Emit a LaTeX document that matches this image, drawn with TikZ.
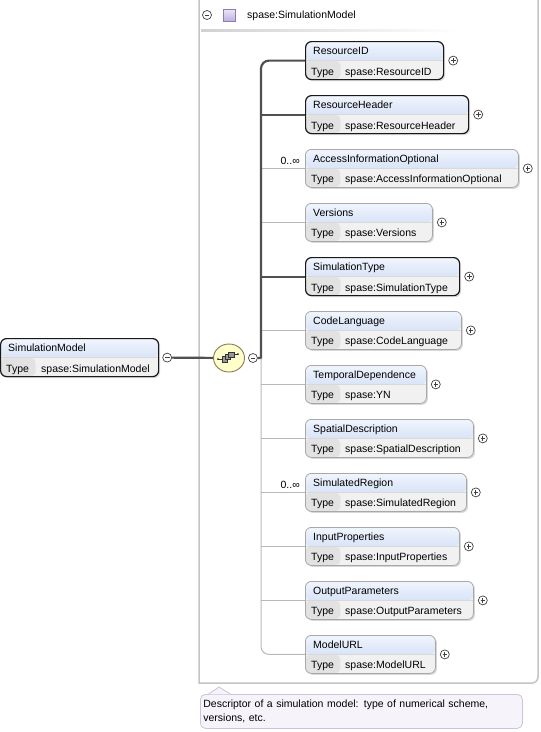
\documentclass[tikz,border=0pt]{standalone}
\usepackage{fontspec}
\setmainfont{Liberation Sans}
\usetikzlibrary{positioning}
\usetikzlibrary{shapes.geometric}
\usetikzlibrary{shadows}

\definecolor{hdtop}{HTML}{F1F5FD}
\definecolor{hdbot}{HTML}{BFD2F1}
\definecolor{rowgray}{HTML}{F1F1F1}
\definecolor{cellgray}{HTML}{E2E2E2}
\definecolor{optgray}{HTML}{A8A8A8}
\definecolor{linedark}{HTML}{505050}
\definecolor{linelight}{HTML}{B8B8B8}
\definecolor{framegray}{HTML}{C4C4C4}
\definecolor{seqfill}{HTML}{FFFFCC}
\definecolor{seqborder}{HTML}{8A7A50}
\definecolor{notefill}{HTML}{F6F3FA}
\definecolor{noteborder}{HTML}{CCC4DC}
\definecolor{clstop}{HTML}{ECE6F7}
\definecolor{clsbot}{HTML}{BEB0E0}
\definecolor{clsborder}{HTML}{8C7CB4}

\tikzset{
  elem/.style={rectangle, rounded corners=6pt, minimum height=38pt, inner sep=0pt,
    anchor=north west, fill=rowgray,
    drop shadow={shadow xshift=1.5pt, shadow yshift=-1.5pt, fill=black!30, opacity=.5},
    path picture={
      \shade[top color=hdtop, bottom color=hdbot]
        (path picture bounding box.north west) rectangle ([yshift=-19pt]path picture bounding box.north east);
      \fill[cellgray]
        ([yshift=-19pt]path picture bounding box.north west) rectangle ([xshift=35pt]path picture bounding box.south west);
      \draw[white!85!black, line width=0.6pt]
        ([yshift=-19pt]path picture bounding box.north west) -- ([yshift=-19pt]path picture bounding box.north east);
    }},
  mbox/.style={draw=black!90, line width=1.2pt},
  obox/.style={draw=optgray, line width=0.8pt},
  mline/.style={draw=linedark, line width=2.2pt},
  oline/.style={draw=linelight, line width=1pt},
  noline/.style={draw=none},
  txt/.style={anchor=west, inner sep=0pt, text height=8pt, text depth=2pt},
  plus/.style={circle, draw=black!75, line width=0.7pt, fill=white, minimum size=9pt, inner sep=0pt,
    path picture={
      \draw[line width=0.7pt]
        ([xshift=-2.3pt]path picture bounding box.center) -- ([xshift=2.3pt]path picture bounding box.center)
        ([yshift=-2.3pt]path picture bounding box.center) -- ([yshift=2.3pt]path picture bounding box.center);
    }},
  minus/.style={circle, draw=black!75, line width=0.7pt, fill=white, minimum size=9pt, inner sep=0pt,
    path picture={
      \draw[line width=0.7pt]
        ([xshift=-2.3pt]path picture bounding box.center) -- ([xshift=2.3pt]path picture bounding box.center);
    }},
  seq/.style={ellipse, draw=seqborder, line width=0.9pt, fill=seqfill, minimum width=31pt, minimum height=28pt,
    inner sep=0pt,
    path picture={
      \draw[black!80, line width=0.8pt]
        ([xshift=-11pt,yshift=-1pt]path picture bounding box.center) -- ([xshift=-7pt,yshift=-1pt]path picture bounding box.center)
        ([xshift=5pt,yshift=4pt]path picture bounding box.center) -- ([xshift=9pt,yshift=4pt]path picture bounding box.center);
      \fill[black!85]
        ([xshift=-11pt,yshift=-1pt]path picture bounding box.center) circle (1pt)
        ([xshift=9pt,yshift=4pt]path picture bounding box.center) circle (1pt);
      \filldraw[fill=black!40, draw=black!80, line width=0.6pt]
        ([xshift=-7pt,yshift=-4pt]path picture bounding box.center) rectangle ([xshift=-1.5pt,yshift=1.5pt]path picture bounding box.center);
      \filldraw[fill=black!40, draw=black!80, line width=0.6pt]
        ([xshift=-3.8pt,yshift=-1.6pt]path picture bounding box.center) rectangle ([xshift=1.7pt,yshift=3.9pt]path picture bounding box.center);
      \filldraw[fill=black!40, draw=black!80, line width=0.6pt]
        ([xshift=-0.5pt,yshift=0.6pt]path picture bounding box.center) rectangle ([xshift=5pt,yshift=6.1pt]path picture bounding box.center);
    }},
  cls/.style={rectangle, minimum size=12pt, inner sep=0pt, draw=clsborder, line width=0.6pt,
    top color=clstop, bottom color=clsbot},
  note/.style={rectangle, rounded corners=5pt, fill=notefill, draw=noteborder, line width=0.8pt, anchor=north west,
    minimum width=322pt, minimum height=34pt, text width=316pt, align=left, inner xsep=3pt, inner ysep=3pt,
    font=\fontsize{10.5}{14}\selectfont}
}

\begin{document}
\begin{tikzpicture}[x=1pt, y=-1pt, font=\fontsize{10.5}{12}\selectfont]
  \useasboundingbox (0,0) rectangle (541,732);

  % content frame
  \draw[framegray, line width=1.5pt] (199,-5) -- (199,683) [rounded corners=6pt] -| (538,-5);
  \node[minus] (topm) at (207,15) {};
  \node[cls] (cls) at (229,15) {};
  \node[txt] (clsname) at (247,15) {spase:SimulationModel};
  \shade[left color=black!18, right color=white] (201,29) rectangle (460,31);

  % root element
  \node[elem, mbox, minimum width=158pt] (root) at (0,338) {};
  \node[txt] (rootn) at ([xshift=8pt,yshift=-10pt]root.north west) {SimulationModel};
  \node[txt] (roott) at ([xshift=6pt,yshift=8pt]root.south west) {Type};
  \node[txt] (rootv) at ([xshift=41pt,yshift=8pt]root.south west) {spase:SimulationModel};
  \node[minus] (rootm) at ([xshift=8pt]root.east) {};

  \node[seq] (seq) at (229,358) {};
  \node[minus] (seqm) at ([xshift=8pt]seq.east) {};
  \coordinate (jn) at (261,358);

  \foreach \i/\y/\w/\el/\ty/\bx/\lk in {
      1/41/138/ResourceID/ResourceID/mbox/noline,
      2/95/163/ResourceHeader/ResourceHeader/mbox/mline,
      3/149/213/AccessInformationOptional/AccessInformationOptional/obox/oline,
      4/203/127/Versions/Versions/obox/oline,
      5/257/154/SimulationType/SimulationType/mbox/mline,
      6/311/156/CodeLanguage/CodeLanguage/obox/oline,
      7/365/121/TemporalDependence/YN/obox/oline,
      8/419/168/SpatialDescription/SpatialDescription/obox/oline,
      9/473/161/SimulatedRegion/SimulatedRegion/obox/oline,
      10/527/154/InputProperties/InputProperties/obox/oline,
      11/581/168/OutputParameters/OutputParameters/obox/oline,
      12/635/130/ModelURL/ModelURL/obox/noline} {
    \node[elem, \bx, minimum width=\w pt] (e\i) at (305,\y) {};
    \node[txt] (n\i) at ([xshift=8pt,yshift=-10pt]e\i.north west) {\el};
    \node[txt] (t\i) at ([xshift=6pt,yshift=8pt]e\i.south west) {Type};
    \node[txt] (v\i) at ([xshift=40pt,yshift=8pt]e\i.south west) {spase:\ty};
    \node[plus] (p\i) at ([xshift=9pt]e\i.east) {};
    \draw[\lk] (e\i.west -| jn) -- (e\i.west);
  }

  \node[txt, anchor=south east] (m3) at ([xshift=-5pt,yshift=2pt]e3.west) {0..∞};
  \node[txt, anchor=south east] (m9) at ([xshift=-5pt,yshift=2pt]e9.west) {0..∞};

  \draw[mline] (rootm) -- (seq);
  \draw[mline] (seqm.east) -- (jn) [rounded corners=8pt] |- (e1.west);
  \draw[oline, rounded corners=8pt] (jn) |- (e12.west);

  % annotation
  \node[note] (doc) at (200,694) {Descriptor of a simulation model: type of numerical scheme,\\versions, etc.};
  \coordinate (pa) at ([xshift=8pt,yshift=-0.4pt]doc.north west);
  \coordinate (pb) at ([xshift=19pt,yshift=7pt]doc.north west);
  \coordinate (pc) at ([xshift=31pt,yshift=-0.4pt]doc.north west);
  \fill[notefill] (pa) -- (pb) -- (pc) -- cycle;
  \draw[noteborder, line width=0.8pt] (pa) -- (pb) -- (pc);
\end{tikzpicture}
\end{document}
